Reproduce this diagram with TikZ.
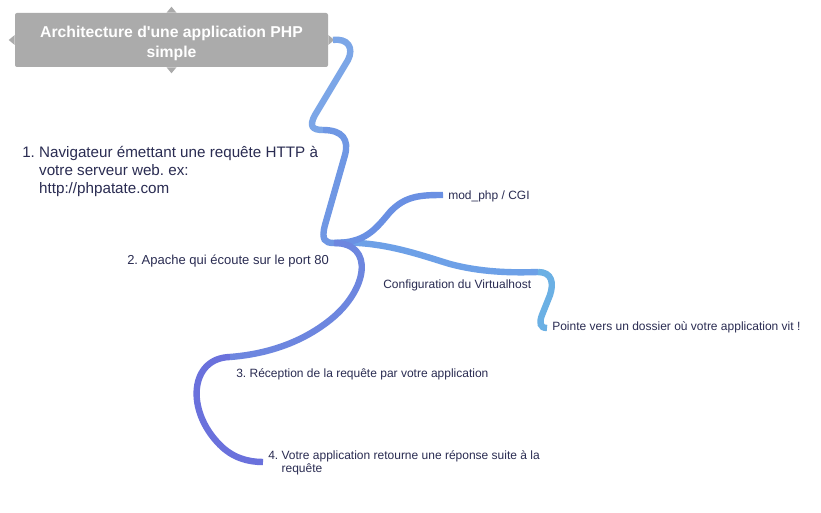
\documentclass[tikz,border=0pt]{standalone}
\usepackage{fontspec}
\setmainfont{Liberation Sans}
\frenchspacing

\definecolor{txtnavy}{HTML}{2A2C52}
\definecolor{titlegray}{HTML}{ABABAB}
\definecolor{brA}{HTML}{7CA6E7}
\definecolor{brB}{HTML}{6F97E4}
\definecolor{brC}{HTML}{6A90E3}
\definecolor{brD}{HTML}{6DA0E7}
\definecolor{brE}{HTML}{6BB0E4}
\definecolor{brF}{HTML}{6D86DF}
\definecolor{brG}{HTML}{6A71DC}

\tikzset{
  branch/.style={line width=4.8pt, line cap=butt},
  leaf/.style={anchor=west, inner sep=0.75pt, text=txtnavy, font=\fontsize{9}{10.5}\selectfont, align=left},
}

\begin{document}
\begin{tikzpicture}[x=0.75pt,y=0.75pt,yscale=-1,xscale=1]
	\useasboundingbox (0,0) rectangle (821,513);
	\fill[white] (0,0) rectangle (821,513);

	% Title Node
	\node (title) at (171.5,40) [fill=titlegray, rounded corners=1.5pt, minimum width=234.75pt, minimum height=40.5pt, inner sep=0pt, text=white, font=\bfseries\fontsize{11.8}{15}\selectfont] {\raisebox{-3pt}[\height][\depth]{\begin{tabular}{@{}c@{}}Architecture d\textquotesingle une application PHP\\simple\end{tabular}}};
	\fill[titlegray] (title.north) ++(-5,0) -- ++(5,-6) -- ++(5,6) -- cycle;
	\fill[titlegray] (title.south) ++(-5,0) -- ++(5,6) -- ++(5,-6) -- cycle;
	\fill[titlegray] (title.west) ++(0,-5) -- ++(-6,5) -- ++(6,5) -- cycle;
	\fill[titlegray] (title.east) ++(0,-5) -- ++(6,5) -- ++(-6,5) -- cycle;

	% Text Node
	\node (navig) at (21,171.5) [leaf, font=\fontsize{11.4}{13.4}\selectfont] {1. Navigateur émettant une requête HTTP à\\\phantom{1. }votre serveur web. ex:\\\phantom{1. }http://phpatate.com};
	% Text Node
	\node (apache) at (126,261) [leaf, font=\fontsize{9.75}{11}\selectfont] {2. Apache qui écoute sur le port 80};
	% Text Node
	\node (modphp) at (447,196) [leaf] {mod\_php / CGI};
	% Text Node
	\node (vhost) at (382,285) [leaf] {Configuration du Virtualhost};
	% Text Node
	\node (pointe) at (551,327) [leaf] {Pointe vers un dossier où votre application vit !};
	% Text Node
	\node (reception) at (235,374) [leaf] {3. Réception de la requête par votre application};
	% Text Node
	\node (retour) at (267,463) [leaf, font=\fontsize{9}{10.2}\selectfont] {4. Votre application retourne une réponse suite à la\\\phantom{4. }requête};

	% attach points
	\coordinate (kTitle) at (333,40);
	\coordinate (kNavig) at (323,130);
	\coordinate (kApache) at (334,243);
	\coordinate (kModphp) at (443,195);
	\coordinate (kVhost) at (538,272);
	\coordinate (kPointe) at (547,328);
	\coordinate (kReception) at (230,357);
	\coordinate (kRetour) at (263,462);

	% Connection
	\draw [branch, brA] (kTitle) .. controls (348,38) and (354,48) .. (348,60) -- (315,115) .. controls (309,126) and (312,130) .. (kNavig);
	% Connection
	\draw [branch, brB] (kNavig) .. controls (343,130) and (349,140) .. (345,155) -- (325,225) .. controls (321,240) and (325,243) .. (kApache);
	% Connection
	\draw [branch, brD] (kApache) .. controls (380,240) and (420,255) .. (450,264) .. controls (480,272) and (510,273) .. (kVhost);
	% Connection
	\draw [branch, brC] (kApache) .. controls (365,243) and (375,230) .. (390,212) .. controls (405,196) and (420,195) .. (kModphp);
	% Connection
	\draw [branch, brE] (kVhost) .. controls (552,272) and (554,283) .. (550,295) -- (542,315) .. controls (539,323) and (540,328) .. (kPointe);
	% Connection
	\draw [branch, brF] (kApache) .. controls (375,243) and (368,290) .. (330,320) .. controls (295,348) and (255,355) .. (kReception);
	% Connection
	\draw [branch, brG] (kReception) .. controls (190,358) and (185,410) .. (220,445) .. controls (233,458) and (248,462) .. (kRetour);

\end{tikzpicture}
\end{document}
